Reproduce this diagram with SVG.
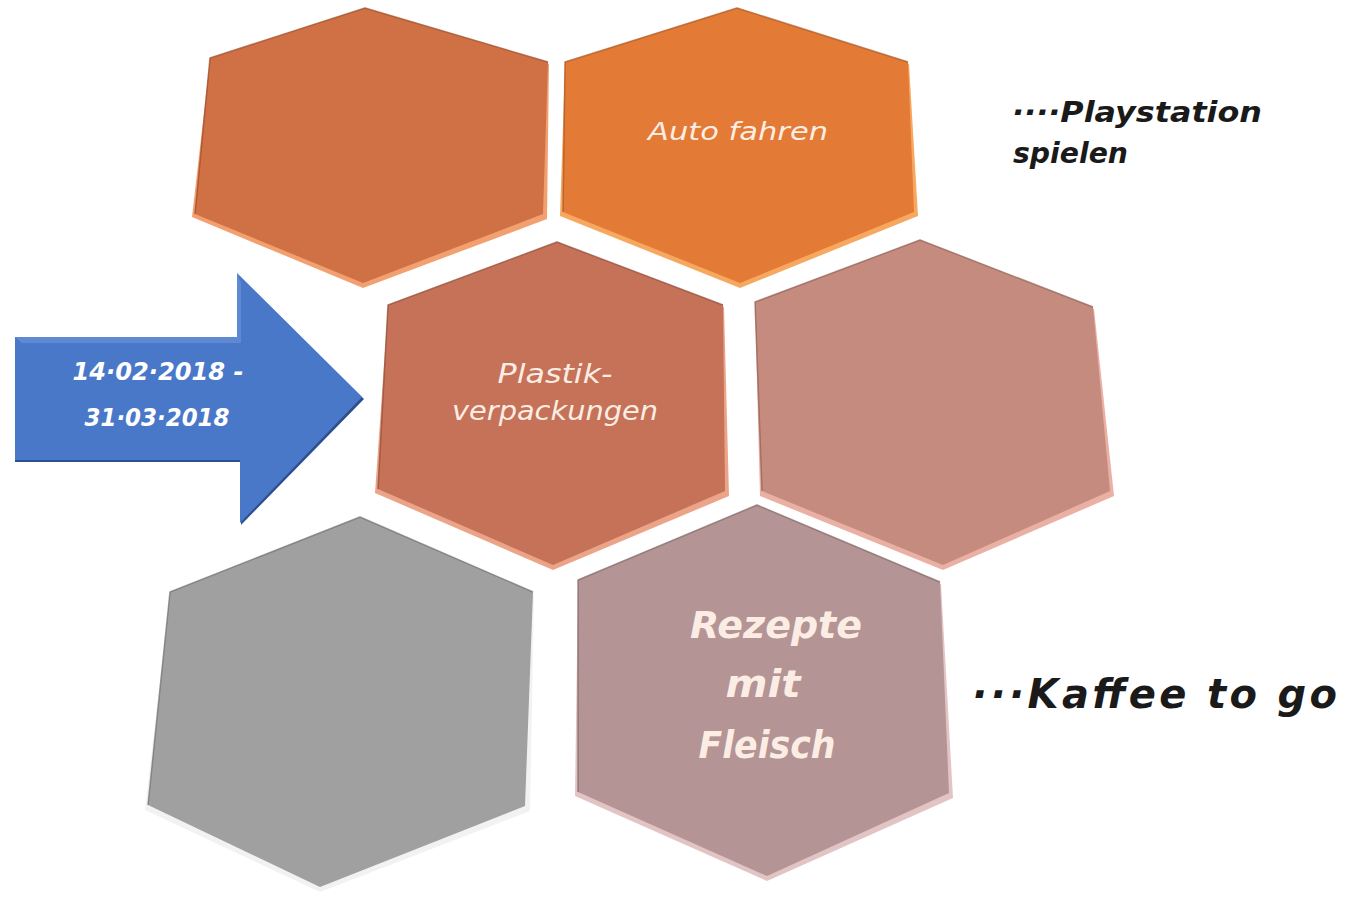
<svg xmlns="http://www.w3.org/2000/svg" width="1357" height="897" viewBox="0 0 1357 897">
<style>
.lbl{font-family:"DejaVu Sans","Liberation Sans",sans-serif;font-style:italic;fill:#FBEDE4;text-anchor:middle}
.big{font-weight:bold}
.note{font-family:"DejaVu Sans","Liberation Sans",sans-serif;font-style:italic;font-weight:bold;fill:#1a1a1a}
.rim{fill:none;stroke-width:1.5;stroke-linejoin:round;opacity:0.7}
</style>
<defs>
<filter id="soft" x="-5%" y="-5%" width="110%" height="110%"><feGaussianBlur stdDeviation="0.6"/></filter>
</defs>
<rect width="1357" height="897" fill="#ffffff"/>

<g id="hex1">
<polygon points="365,10 549,64 547,219 363,288 192,217 210,60" fill="#F2A070" filter="url(#soft)"/>
<polygon points="365,8 548,62 543,214 363,283 195,214 210,58" fill="#D07045"/>
<polyline class="rim" points="195,214 210,58 365,8 548,62" stroke="#9A4A28"/>
</g>

<g id="hex2">
<polygon points="737,10 909,64 918,216 740,288 560,216 565,64" fill="#F7A860" filter="url(#soft)"/>
<polygon points="737,8 908,62 914,212 740,283 563,212 565,62" fill="#E37A35"/>
<polyline class="rim" points="563,212 565,62 737,8 908,62" stroke="#A85420"/>
<text class="lbl" x="738" y="140" font-size="24" textLength="180" lengthAdjust="spacingAndGlyphs">Auto fahren</text>
</g>

<g id="hex3">
<polygon points="557,244 724,307 729,496 553,570 375,493 388,307" fill="#EBA488" filter="url(#soft)"/>
<polygon points="557,242 723,305 725,491 553,565 378,489 388,305" fill="#C57258"/>
<polyline class="rim" points="378,489 388,305 557,242 723,305" stroke="#8E4A36"/>
<text class="lbl" x="555" y="383" font-size="26" textLength="115" lengthAdjust="spacingAndGlyphs">Plastik-</text>
<text class="lbl" x="555" y="420" font-size="26" textLength="206" lengthAdjust="spacingAndGlyphs">verpackungen</text>
</g>

<g id="hex4">
<polygon points="920,242 1094,309 1114,496 943,570 760,496 755,304" fill="#EAB0A4" filter="url(#soft)"/>
<polygon points="920,240 1093,307 1110,491 943,565 762,491 755,302" fill="#C48B7E"/>
<polyline class="rim" points="762,491 755,302 920,240 1093,307" stroke="#8E5E54"/>
</g>

<g id="hex5">
<polygon points="360,519 534,594 530,811 320,892 145,810 170,594" fill="#F2F2F2" filter="url(#soft)"/>
<polygon points="360,517 533,592 525,806 320,887 148,805 170,592" fill="#A0A0A0"/>
<polyline class="rim" points="148,805 170,592 360,517 533,592" stroke="#6E6E6E"/>
</g>

<g id="hex6">
<polygon points="757,507 941,584 953,798 767,881 575,796 578,582" fill="#E2C4C4" filter="url(#soft)"/>
<polygon points="757,505 940,582 949,793 767,876 578,792 578,580" fill="#B49494"/>
<polyline class="rim" points="578,792 578,580 757,505 940,582" stroke="#7E6464"/>
<text class="lbl big" x="776" y="638" font-size="37" textLength="172" lengthAdjust="spacingAndGlyphs">Rezepte</text>
<text class="lbl big" x="763" y="697" font-size="37" textLength="75" lengthAdjust="spacingAndGlyphs">mit</text>
<text class="lbl big" x="767" y="758" font-size="37" textLength="137" lengthAdjust="spacingAndGlyphs">Fleisch</text>
</g>

<g id="arrow">
<polygon points="15,339 238,339 238,275 364,399 241,525 241,462 15,462" fill="#2F4F8F" filter="url(#soft)"/>
<polygon points="15,337 237,337 237,273 362,397 240,523 240,460 15,460" fill="#4A78C8"/>
<polygon points="15,337 237,337 237,273 241,283 241,343 22,343" fill="#6E95DA" opacity="0.6"/>
<text class="lbl" x="158" y="380" font-size="25" textLength="171" lengthAdjust="spacingAndGlyphs" style="fill:#fff;font-weight:bold">14·02·2018 -</text>
<text class="lbl" x="157" y="426" font-size="25" textLength="145" lengthAdjust="spacingAndGlyphs" style="fill:#fff;font-weight:bold">31·03·2018</text>
</g>

<g id="note-playstation">
<text class="note" x="1012" y="122" font-size="29" textLength="250" lengthAdjust="spacingAndGlyphs">····Playstation</text>
<text class="note" x="1013" y="163" font-size="29" textLength="115" lengthAdjust="spacingAndGlyphs">spielen</text>
</g>

<g id="note-kaffee">
<text class="note" x="972" y="708" font-size="40" textLength="365" lengthAdjust="spacing">···Kaffee to go</text>
</g>

<g id="connectors"></g>
</svg>
